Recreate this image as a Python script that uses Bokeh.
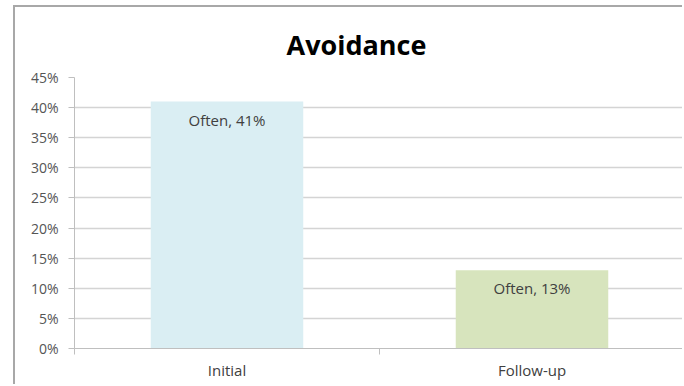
from bokeh.plotting import figure
from bokeh.models import ColumnDataSource, FixedTicker, NumeralTickFormatter, Range1d, LabelSet
from bokeh.core.properties import value
from bokeh.embed import file_html
from bokeh.resources import INLINE

title = "Avoidance"
categories = ["Initial", "Follow-up"]
values = [0.41, 0.13]
labels = ["Often, 41%", "Often, 13%"]
colors = ["#DAEEF3", "#D7E4BD"]
y_ticks = [0.0, 0.05, 0.10, 0.15, 0.20, 0.25, 0.30, 0.35, 0.40, 0.45]

FONT = "Open Sans"

xs = [i + 0.5 for i in range(len(categories))]
src = ColumnDataSource(dict(x=xs, top=values, label=labels, color=colors))

p = figure(width=669, height=379, output_backend="svg", toolbar_location=None,
           x_range=Range1d(0, len(categories)), y_range=Range1d(0, y_ticks[-1]),
           min_border_left=59, min_border_right=0, min_border_top=70, min_border_bottom=38,
           margin=(5, 0, 0, 13),
           styles={"border-top": "2px solid #a8a8a8", "border-left": "2px solid #a8a8a8"})
p.outline_line_color = None
p.title.text = title
p.title.text_font = FONT
p.title.text_font_size = "27px"
p.title.text_font_style = "bold"
p.title.text_color = "#000000"
p.title.align = "left"
p.title.offset = 212
p.title.standoff = 30

p.vbar(x="x", top="top", width=0.5, color="color", source=src, line_color=None)
p.add_layout(LabelSet(x="x", y="top", text="label", source=src, text_align="center",
                      text_baseline="middle", y_offset=-18, text_font=value(FONT),
                      text_font_size=value("15px"), text_color="#404040"))

# grid
p.xgrid.grid_line_color = None
p.ygrid.ticker = FixedTicker(ticks=y_ticks)
p.ygrid.grid_line_color = "#d4d4d4"
p.ygrid.grid_line_width = 1.3

# y axis
p.yaxis.ticker = FixedTicker(ticks=y_ticks)
p.yaxis.formatter = NumeralTickFormatter(format="0%")
p.yaxis.axis_line_color = "#bfbfbf"
p.yaxis.major_tick_line_color = "#bfbfbf"
p.yaxis.major_tick_out = 6
p.yaxis.major_tick_in = 0
p.yaxis.minor_tick_line_color = None
p.yaxis.major_label_standoff = 10
p.yaxis.major_label_text_font = FONT
p.yaxis.major_label_text_font_size = "14px"
p.yaxis.major_label_text_color = "#555555"

# x axis
p.xaxis.ticker = FixedTicker(ticks=xs, minor_ticks=list(range(len(categories) + 1)))
p.xaxis.major_label_overrides = {x: c for x, c in zip(xs, categories)}
p.xaxis.axis_line_color = "#bfbfbf"
p.xaxis.major_tick_line_color = None
p.xaxis.minor_tick_line_color = "#bfbfbf"
p.xaxis.minor_tick_out = 6
p.xaxis.minor_tick_in = 0
p.xaxis.major_label_standoff = 5
p.xaxis.major_label_text_font = FONT
p.xaxis.major_label_text_font_size = "15px"
p.xaxis.major_label_text_color = "#404040"

open("out.html", "w").write(file_html(p, INLINE))
